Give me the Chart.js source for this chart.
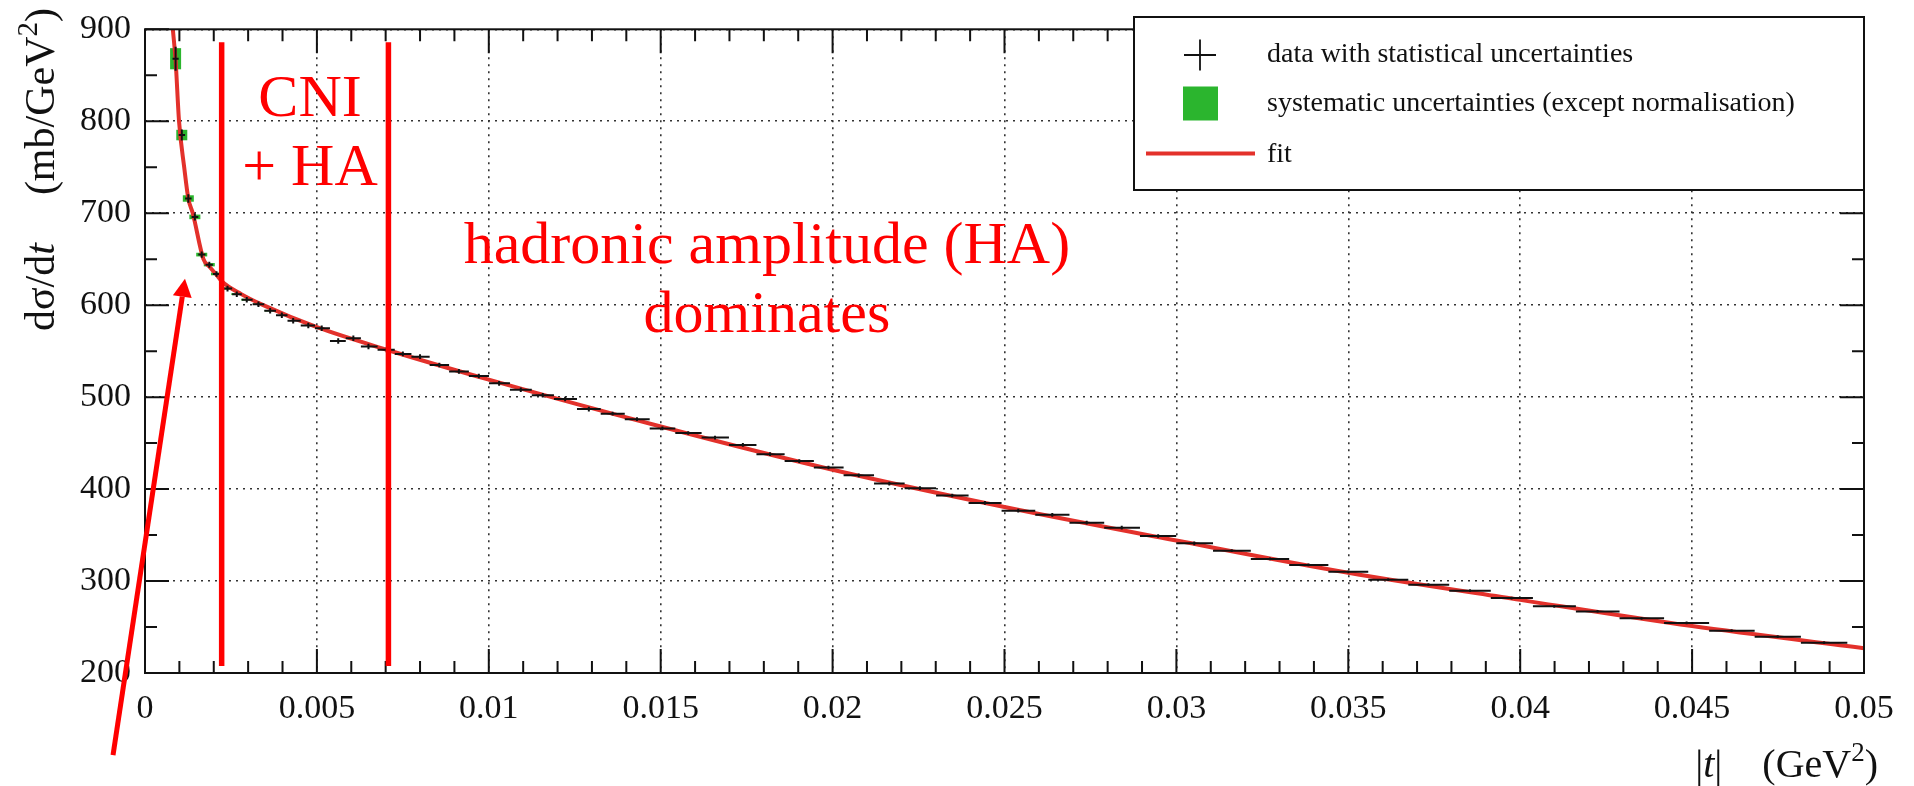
<!DOCTYPE html>
<html>
<head>
<meta charset="utf-8">
<title>dσ/dt vs |t|</title>
<script src="https://cdn.jsdelivr.net/npm/chart.js@4.4.1/dist/chart.umd.min.js"></script>
<style>
  html, body { margin: 0; padding: 0; background: #fff; }
</style>
</head>
<body>
<canvas id="grafica" width="1914" height="786"></canvas>
<script>
/* ===== Datos ===== */
// centros de los bins en |t| (GeV^2)
const tCentres = [
  0.00089, 0.00107, 0.00126, 0.00145, 0.00165, 0.00187, 0.00208, 0.00240, 0.00267, 0.00296,
  0.00330, 0.00364, 0.00398, 0.00431, 0.00475, 0.00514, 0.00562, 0.00606, 0.00650, 0.00703,
  0.00750, 0.00800, 0.00856, 0.00913, 0.00971, 0.01030, 0.01093, 0.01157, 0.01222, 0.01291,
  0.01360, 0.01431, 0.01505, 0.01580, 0.01658, 0.01739, 0.01818, 0.01903, 0.01988, 0.02076,
  0.02165, 0.02254, 0.02348, 0.02443, 0.02540, 0.02639, 0.02739, 0.02841, 0.02947, 0.03052,
  0.03161, 0.03272, 0.03384, 0.03500, 0.03616, 0.03733, 0.03854, 0.03975, 0.04099, 0.04225,
  0.04353, 0.04484, 0.04615, 0.04749, 0.04884
];
// dσ/dt (mb/GeV^2)
const dsdt = [
  868, 785, 716, 696, 655, 644, 634, 618, 612, 606,
  601, 594, 589, 583, 578, 575, 561, 564, 555, 551.5,
  547, 544, 535, 528, 523, 515, 508, 502, 498, 487,
  482, 476, 466, 461, 456, 448, 438, 430.5, 423.5, 415,
  406, 401, 393, 385, 376.5, 372, 363.5, 358, 349, 341,
  333, 324, 317.5, 310, 301.5, 296, 289.5, 281.5, 272.5, 267,
  259.5, 254.5, 246, 239.5, 233
];
// incertidumbre estadística (mb/GeV^2)
const statErr = [
  13, 6, 4.5, 4, 3.5, 3.2, 3, 3, 3, 3, 3, 3, 3, 3, 3, 3, 3, 3, 3, 3,
  2.5, 2.5, 2.5, 2.5, 2.5, 2.5, 2.5, 2.5, 2.5, 2.5,
  2, 2, 2, 2, 2, 2, 2, 2, 2, 2, 2, 2, 2, 2, 2, 2, 2, 2, 2, 2,
  1.5, 1.5, 1.5, 1.5, 1.5, 1.5, 1.5, 1.5, 1.5, 1.5, 1.5, 1.5, 1.5, 1.5, 1.5
];
// incertidumbre sistemática (solo visible en los primeros bins)
const sysErr = [11.5, 5.7, 3.5, 2.5, 2, 1.8, 1.5, 1.2, 1, 1, 0.8, 0.8];

// curva del ajuste
const fitT = [0.00081, 0.00089, 0.00099, 0.00114, 0.00126, 0.00139, 0.0017, 0.00187, 0.00208, 0.00223,
              0.0028, 0.00344, 0.005, 0.00708, 0.01, 0.015, 0.02, 0.025, 0.03, 0.035, 0.04, 0.045, 0.05];
const fitV = [900, 866, 800, 750, 716, 700, 650, 642, 633, 626,
              612, 600, 576, 551, 519, 468, 421, 380.5, 344, 309, 279.5, 251, 227];

// etiquetas de los ejes
const xTickLabels = ['0', '0.005', '0.01', '0.015', '0.02', '0.025', '0.03', '0.035', '0.04', '0.045', '0.05'];
const yTickLabels = ['200', '300', '400', '500', '600', '700', '800', '900'];

// anotaciones
const regionLines = [0.00223, 0.00708];
const cniText = ['CNI', '+ HA'];
const haText = ['hadronic amplitude (HA)', 'dominates'];
const legendLabels = ['data with statistical uncertainties', 'systematic uncertainties (except normalisation)', 'fit'];

/* ===== Estilos ===== */
const SERIF = "'Liberation Serif', 'Times New Roman', serif";
const RED = '#ff0000';
const FIT_RED = '#e3312b';
const GREEN = '#2bb52e';
const INK = '#111';
const sysHalfWidth = 0.00016;
const xMinorStep = 0.001, yMinorStep = 50;

function richWidth(ctx, pieces) {
  let w = 0;
  pieces.forEach(p => {
    if (p.gap) { w += p.gap; return; }
    ctx.font = p.font;
    w += ctx.measureText(p.text).width;
  });
  return w;
}
function drawRich(ctx, pieces, x0, y0) {
  let xx = x0;
  pieces.forEach(p => {
    if (p.gap) { xx += p.gap; return; }
    ctx.font = p.font;
    ctx.fillText(p.text, xx, y0 - (p.rise || 0));
    xx += ctx.measureText(p.text).width;
  });
}

const F42 = '42px ' + SERIF, F42I = 'italic 42px ' + SERIF, F29 = '29px ' + SERIF;
const F40 = '40px ' + SERIF, F40I = 'italic 40px ' + SERIF, F27 = '27px ' + SERIF;
const yTitle = [
  { text: 'dσ/d', font: F42 }, { text: 't', font: F42I }, { gap: 48 },
  { text: '(mb/GeV', font: F42 }, { text: '2', font: F29, rise: 17 }, { text: ')', font: F42 }
];
const xTitle = [
  { text: '|', font: F40 }, { text: 't', font: F40I }, { text: '|', font: F40 }, { gap: 40 },
  { text: '(GeV', font: F40 }, { text: '2', font: F27, rise: 16 }, { text: ')', font: F40 }
];

const decor = {
  id: 'decor',
  beforeDatasetsDraw(chart) {
    // cajas de incertidumbre sistemática
    const { ctx, scales: { x, y } } = chart;
    ctx.save();
    ctx.fillStyle = GREEN;
    tCentres.forEach((t, i) => {
      const e = sysErr[i] || 0;
      if (!e) return;
      const x0 = x.getPixelForValue(t - sysHalfWidth), x1 = x.getPixelForValue(t + sysHalfWidth);
      const y0 = y.getPixelForValue(dsdt[i] + e), y1 = y.getPixelForValue(dsdt[i] - e);
      ctx.fillRect(x0, y0, x1 - x0, y1 - y0);
    });
    ctx.restore();
  },
  afterDatasetsDraw(chart) {
    // barras de error: anchura del bin + error estadístico
    const { ctx, scales: { x, y } } = chart;
    const pts = chart.getDatasetMeta(1).data;
    const n = tCentres.length;
    ctx.save();
    ctx.strokeStyle = INK;
    ctx.lineWidth = 2;
    ctx.beginPath();
    for (let i = 0; i < n; i++) {
      const lo = i > 0 ? (tCentres[i - 1] + tCentres[i]) / 2 : tCentres[0] - (tCentres[1] - tCentres[0]) / 2;
      const hi = i < n - 1 ? (tCentres[i] + tCentres[i + 1]) / 2 : tCentres[n - 1] + (tCentres[n - 1] - tCentres[n - 2]) / 2;
      const p = pts[i];
      ctx.moveTo(x.getPixelForValue(lo), p.y);
      ctx.lineTo(x.getPixelForValue(hi), p.y);
      ctx.moveTo(p.x, y.getPixelForValue(dsdt[i] + statErr[i]));
      ctx.lineTo(p.x, y.getPixelForValue(dsdt[i] - statErr[i]));
    }
    ctx.stroke();
    ctx.restore();
  },
  afterDraw(chart) {
    const { ctx, chartArea: a, scales: { x, y } } = chart;
    ctx.save();

    // marco
    ctx.strokeStyle = INK;
    ctx.lineWidth = 2;
    ctx.strokeRect(a.left, a.top, a.right - a.left, a.bottom - a.top);

    // marcas de los ejes (hacia dentro, en los cuatro lados)
    ctx.lineWidth = 2;
    ctx.beginPath();
    for (let k = 0; k * xMinorStep <= x.max + 1e-9; k++) {
      const px = x.getPixelForValue(k * xMinorStep);
      const len = k % 5 === 0 ? 24 : 12;
      ctx.moveTo(px, a.bottom); ctx.lineTo(px, a.bottom - len);
      ctx.moveTo(px, a.top); ctx.lineTo(px, a.top + len);
    }
    for (let v = y.min; v <= y.max; v += yMinorStep) {
      const py = y.getPixelForValue(v);
      const len = v % 100 === 0 ? 24 : 12;
      ctx.moveTo(a.left, py); ctx.lineTo(a.left + len, py);
      ctx.moveTo(a.right, py); ctx.lineTo(a.right - len, py);
    }
    ctx.stroke();

    // títulos de los ejes
    ctx.fillStyle = INK;
    ctx.textAlign = 'left';
    ctx.textBaseline = 'alphabetic';
    const wy = richWidth(ctx, yTitle);
    ctx.save();
    ctx.translate(54, 8 + wy);
    ctx.rotate(-Math.PI / 2);
    drawRich(ctx, yTitle, 0, 0);
    ctx.restore();
    const wx = richWidth(ctx, xTitle);
    drawRich(ctx, xTitle, 1878 - wx, 777);

    // líneas verticales de las regiones
    ctx.strokeStyle = RED;
    ctx.lineWidth = 5.5;
    ctx.beginPath();
    regionLines.forEach(t => {
      const px = x.getPixelForValue(t);
      ctx.moveTo(px, y.getPixelForValue(886));
      ctx.lineTo(px, y.getPixelForValue(207.5));
    });
    ctx.stroke();

    // flecha
    const ax0 = x.getPixelForValue(-0.00093), ay0 = y.getPixelForValue(110.6);
    const ax1 = x.getPixelForValue(0.001163), ay1 = y.getPixelForValue(628.7);
    const ang = Math.atan2(ay1 - ay0, ax1 - ax0);
    const headLen = 18, headHalf = 9.5;
    const bx = ax1 - headLen * Math.cos(ang), by = ay1 - headLen * Math.sin(ang);
    ctx.lineWidth = 5;
    ctx.beginPath();
    ctx.moveTo(ax0, ay0);
    ctx.lineTo(bx, by);
    ctx.stroke();
    ctx.fillStyle = RED;
    ctx.beginPath();
    ctx.moveTo(ax1, ay1);
    ctx.lineTo(bx + headHalf * Math.sin(ang), by - headHalf * Math.cos(ang));
    ctx.lineTo(bx - headHalf * Math.sin(ang), by + headHalf * Math.cos(ang));
    ctx.closePath();
    ctx.fill();

    // textos rojos
    ctx.font = '60px ' + SERIF;
    ctx.textAlign = 'center';
    ctx.fillText(cniText[0], x.getPixelForValue(0.0048), y.getPixelForValue(805.3));
    ctx.fillText(cniText[1], x.getPixelForValue(0.0048), y.getPixelForValue(730.9));
    ctx.fillText(haText[0], x.getPixelForValue(0.01809), y.getPixelForValue(645.7));
    ctx.fillText(haText[1], x.getPixelForValue(0.01809), y.getPixelForValue(571.3));

    // leyenda
    const L = { left: 1134, top: 17, right: a.right, bottom: 190 };
    ctx.fillStyle = '#fff';
    ctx.fillRect(L.left, L.top, L.right - L.left, L.bottom - L.top);
    ctx.strokeStyle = INK;
    ctx.lineWidth = 2;
    ctx.strokeRect(L.left, L.top, L.right - L.left, L.bottom - L.top);
    ctx.lineWidth = 1.8;
    ctx.beginPath();
    ctx.moveTo(1184, 55); ctx.lineTo(1216, 55);
    ctx.moveTo(1200, 39.5); ctx.lineTo(1200, 70.5);
    ctx.stroke();
    ctx.fillStyle = GREEN;
    ctx.fillRect(1183, 86.5, 35, 34);
    ctx.strokeStyle = FIT_RED;
    ctx.lineWidth = 4;
    ctx.beginPath();
    ctx.moveTo(1146, 153.5); ctx.lineTo(1255, 153.5);
    ctx.stroke();
    ctx.fillStyle = INK;
    ctx.font = '28px ' + SERIF;
    ctx.textAlign = 'left';
    ctx.fillText(legendLabels[0], 1267, 62);
    ctx.fillText(legendLabels[1], 1267, 111);
    ctx.fillText(legendLabels[2], 1267, 162);

    ctx.restore();
  }
};

document.addEventListener('DOMContentLoaded', function () {
  const canvas = document.getElementById('grafica');
  if (!canvas || typeof Chart === 'undefined') {
    console.warn('Chart.js no está cargado o falta el canvas');
    return;
  }
  const axisGrid = { color: '#333', lineWidth: 1.6, drawTicks: false };
  const axisBorder = { display: false, dash: [2, 5] };
  new Chart(canvas.getContext('2d'), {
    type: 'scatter',
    data: {
      datasets: [{
        type: 'line',
        label: 'fit',
        data: fitT.map((t, i) => ({ x: t, y: fitV[i] })),
        borderColor: FIT_RED,
        borderWidth: 4,
        pointRadius: 0,
        fill: false,
        cubicInterpolationMode: 'monotone',
        clip: 0
      }, {
        label: 'data',
        data: tCentres.map((t, i) => ({ x: t, y: dsdt[i] })),
        pointRadius: 0,
        showLine: false
      }]
    },
    options: {
      responsive: false,
      animation: false,
      events: [],
      layout: { padding: { left: 0, right: 50, top: 16, bottom: 0 } },
      plugins: { legend: { display: false }, tooltip: { enabled: false } },
      scales: {
        x: {
          type: 'linear', min: 0, max: 0.05,
          afterFit(s) { s.height = 113; },
          afterBuildTicks(s) { s.ticks = xTickLabels.map(l => ({ value: parseFloat(l) })); },
          ticks: {
            callback: (v, i) => xTickLabels[i],
            font: { family: SERIF, size: 34 }, color: INK, padding: 16,
            maxRotation: 0, autoSkip: false
          },
          grid: axisGrid, border: axisBorder
        },
        y: {
          type: 'linear', min: 200, max: 900,
          afterFit(s) { s.width = 145; },
          afterBuildTicks(s) { s.ticks = yTickLabels.map(l => ({ value: parseFloat(l) })); },
          ticks: {
            callback: (v, i) => yTickLabels[i],
            font: { family: SERIF, size: 34, lineHeight: 0.9 }, color: INK, padding: 14,
            autoSkip: false
          },
          grid: axisGrid, border: axisBorder
        }
      }
    },
    plugins: [decor]
  });
});
</script>
</body>
</html>
